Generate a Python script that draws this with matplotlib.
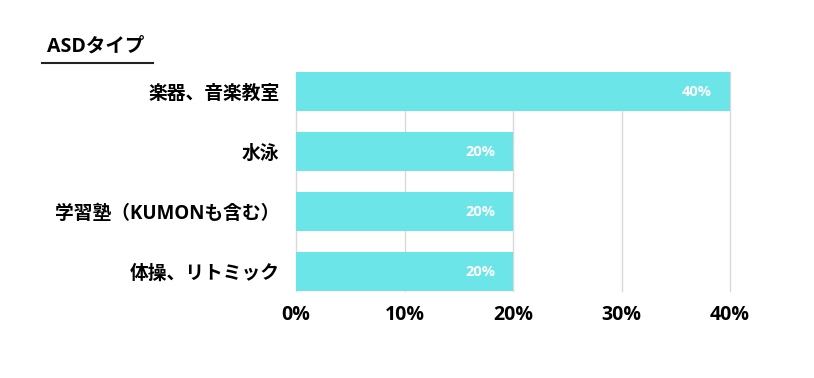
import matplotlib.pyplot as plt
from matplotlib.ticker import PercentFormatter

# 欧文は Open Sans、和文は Noto Sans CJK JP にフォールバック
plt.rcParams['font.family'] = ['Open Sans', 'Noto Sans CJK JP', 'DejaVu Sans']

categories = ['楽器、音楽教室', '水泳', '学習塾（KUMONも含む）', '体操、リトミック']
values = [40, 20, 20, 20]
title = 'ASDタイプ'

bar_color = '#6be5e8'

fig = plt.figure(figsize=(8.14, 3.78), dpi=100)
ax = fig.add_axes([296 / 814, 1 - 291 / 378, 434 / 814, 219 / 378])

ypos = list(range(len(categories)))
bars = ax.barh(ypos, values, height=0.65, color=bar_color, zorder=2)

# 値ラベル（バーの内側右寄せ）
for b, v in zip(bars, values):
    ax.annotate(f'{v}%', xy=(b.get_width(), b.get_y() + b.get_height() / 2),
                xytext=(-13, 0), textcoords='offset points',
                ha='right', va='center', color='white',
                fontsize=10.5, fontweight='bold')

ax.set_xlim(0, 40)
ax.set_ylim(3.325, -0.325)
ax.set_yticks(ypos)
ax.set_yticklabels(categories, fontsize=13.5, fontweight='bold')
ax.set_xticks([0, 10, 20, 30, 40])
ax.xaxis.set_major_formatter(PercentFormatter(decimals=0))
for lbl in ax.get_xticklabels():
    lbl.set_fontsize(14)
    lbl.set_fontweight('bold')
ax.tick_params(axis='both', length=0)
ax.tick_params(axis='y', pad=12)
ax.tick_params(axis='x', pad=10)

ax.grid(axis='x', color='#d9d9d9', linewidth=1, zorder=0)
for gl in ax.get_xgridlines():
    gl.set_clip_on(False)
ax.set_axisbelow(True)
for s in ax.spines.values():
    s.set_visible(False)

# タイトルと下線
fig.text(47 / 814, 1 - 47 / 378, title, fontsize=14, fontweight='bold',
         ha='left', va='center')
fig.add_artist(plt.Line2D([42 / 814, 153 / 814], [1 - 63 / 378, 1 - 63 / 378],
                          color='#222222', linewidth=1.5))

fig.savefig('out.png', dpi=100)
